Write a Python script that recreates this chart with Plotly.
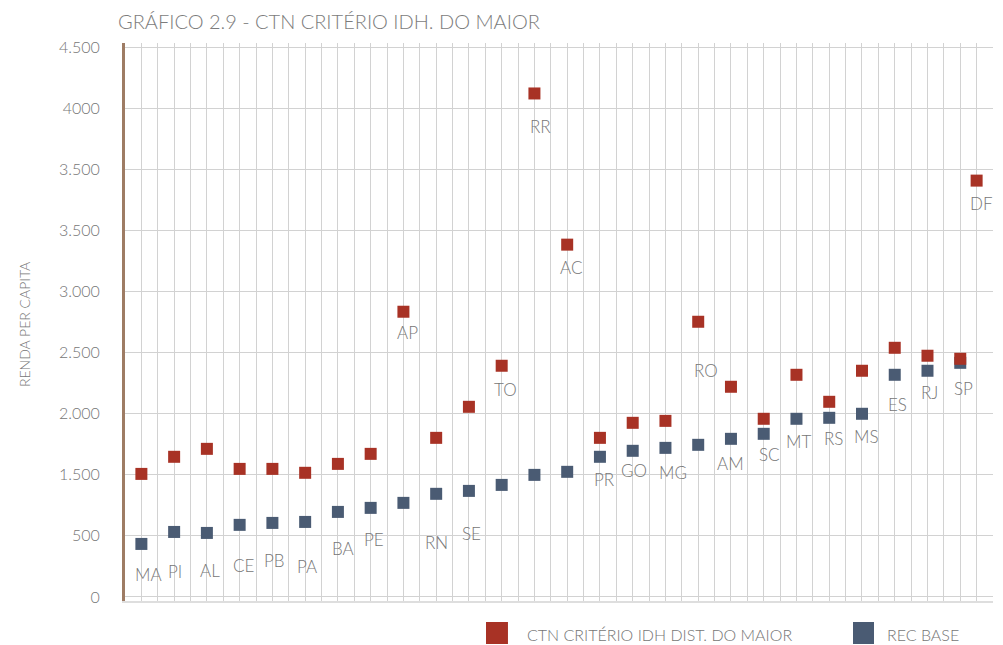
import plotly.graph_objects as go

# dados (renda per capita)
estados = ["MA", "PI", "AL", "CE", "PB", "PA", "BA", "PE", "AP", "RN", "SE", "TO", "RR", "AC",
           "PR", "GO", "MG", "RO", "AM", "SC", "MT", "RS", "MS", "ES", "RJ", "SP", "DF"]
posicao = [1, 2, 3, 4, 5, 6, 7, 8, 9, 10, 11, 12, 13, 14,
           15, 16, 17, 18, 19, 20, 21, 22, 23, 24, 25, 26, 26.5]
ctn_idh = [1007, 1147, 1212, 1048, 1048, 1016, 1089, 1171, 2334, 1302, 1556, 1892, 4120, 2883,
           1302, 1425, 1441, 2252, 1720, 1458, 1818, 1597, 1851, 2039, 1974, 1949, 3407]
rec_base = [434, 532, 524, 590, 606, 614, 696, 729, 770, 844, 868, 917, 999, 1024,
            1147, 1196, 1220, 1245, 1294, 1335, 1458, 1466, 1499, 1818, 1851, 1916, None]

y_ticks = [0, 500, 1000, 1500, 2000, 2500, 3000, 3500, 4000, 4500]
y_ticktext = ["0", "500", "1.500", "2.000", "2.500", "3.000", "3.500", "3.500", "4000", "4.500"]

# rótulo de cada estado: série de referência e deslocamento em pixels (dx, dy para baixo)
rotulo_ancora = ["b", "b", "b", "b", "b", "b", "b", "b", "c", "b", "b", "c", "c", "c",
                 "b", "b", "b", "c", "b", "b", "b", "b", "b", "b", "b", "b", "c"]
rotulo_desloc = [(7, 31), (1, 40), (3, 38), (4, 41), (2, 38), (2, 45), (5, 37), (3, 32), (4, 21),
                 (0, 49), (3, 43), (4, 24), (6, 33), (4, 23), (5, 23), (1, 20), (8, 25), (8, 49),
                 (0, 25), (6, 21), (2, 23), (4, 21), (5, 23), (3, 30), (2, 22), (3, 26), (5, 23)]

VERMELHO = "#a83225"
AZUL = "#4a5b73"
CINZA = "#767676"
FONTE = "Lato"
PESO = 300

fig = go.Figure()

fig.add_trace(go.Scatter(
    x=posicao[:len(rec_base)], y=rec_base, mode="markers", name="REC BASE",
    marker=dict(symbol="square", size=12, color=AZUL),
    text=estados, hovertemplate="%{text}: %{y}<extra>REC BASE</extra>",
))
fig.add_trace(go.Scatter(
    x=posicao, y=ctn_idh, mode="markers", name="CTN CRITÉRIO IDH DIST. DO MAIOR",
    marker=dict(symbol="square", size=12, color=VERMELHO),
    text=estados, hovertemplate="%{text}: %{y}<extra>CTN</extra>",
))

for i, uf in enumerate(estados):
    y_val = rec_base[i] if rotulo_ancora[i] == "b" else ctn_idh[i]
    dx, dy = rotulo_desloc[i]
    fig.add_annotation(
        x=posicao[i], y=y_val, text=uf, showarrow=False,
        xshift=dx, yshift=-dy, font=dict(family=FONTE, size=17, color=CINZA, weight=PESO),
    )

# eixo y: título vertical
fig.add_annotation(
    x=-0.127, y=0.495, xref="paper", yref="paper", text="RENDA PER CAPITA",
    showarrow=False, textangle=-90, font=dict(family=FONTE, size=14, color=CINZA, weight=PESO),
)

# legenda desenhada à mão (quadrados grandes, embaixo)
legenda = [(VERMELHO, 0.4159, 0.4412, 0.4608, "CTN CRITÉRIO IDH DIST. DO MAIOR"),
           (AZUL, 0.8387, 0.8629, 0.8756, "REC BASE")]
for cor, x0, x1, xt, txt in legenda:
    fig.add_shape(type="rect", xref="paper", yref="paper", x0=x0, x1=x1, y0=-0.0771, y1=-0.0376,
                  fillcolor=cor, line=dict(width=0))
    fig.add_annotation(x=xt, y=-0.060, xref="paper", yref="paper", text=txt, showarrow=False,
                       xanchor="left", yanchor="middle",
                       font=dict(family=FONTE, size=16, color=CINZA, weight=PESO))

fig.update_layout(
    width=1003, height=645,
    margin=dict(l=125, r=10, t=43, b=44, autoexpand=False),
    paper_bgcolor="white", plot_bgcolor="white",
    showlegend=False,
    font=dict(family=FONTE, color=CINZA, weight=PESO),
    title=dict(text="GRÁFICO 2.9 - CTN CRITÉRIO IDH. DO MAIOR", x=0.1176, xanchor="left",
               xref="container", y=0.966, yanchor="middle", yref="container",
               font=dict(family=FONTE, size=20, color="#7c7c7c", weight=PESO)),
    xaxis=dict(range=[0.5, 27], tick0=0.5, dtick=0.5, showticklabels=False, ticks="",
               showgrid=True, gridcolor="#d2d2d2", gridwidth=1, zeroline=False,
               showline=True, linecolor="#dedede", linewidth=2),
    yaxis=dict(range=[-33, 4533], tickvals=y_ticks, ticktext=y_ticktext, ticks="",
               tickfont=dict(family=FONTE, size=16, color=CINZA, weight=PESO), ticklabelstandoff=19,
               showgrid=True, gridcolor="#d2d2d2", gridwidth=1, zeroline=False,
               showline=True, linecolor="#9e7c64", linewidth=3),
)

# sem a margem padrão do <body>, o gráfico ocupa a janela inteira
fig.write_html("out.html", config={"displayModeBar": False},
               post_script="document.body.style.margin = '0';")
